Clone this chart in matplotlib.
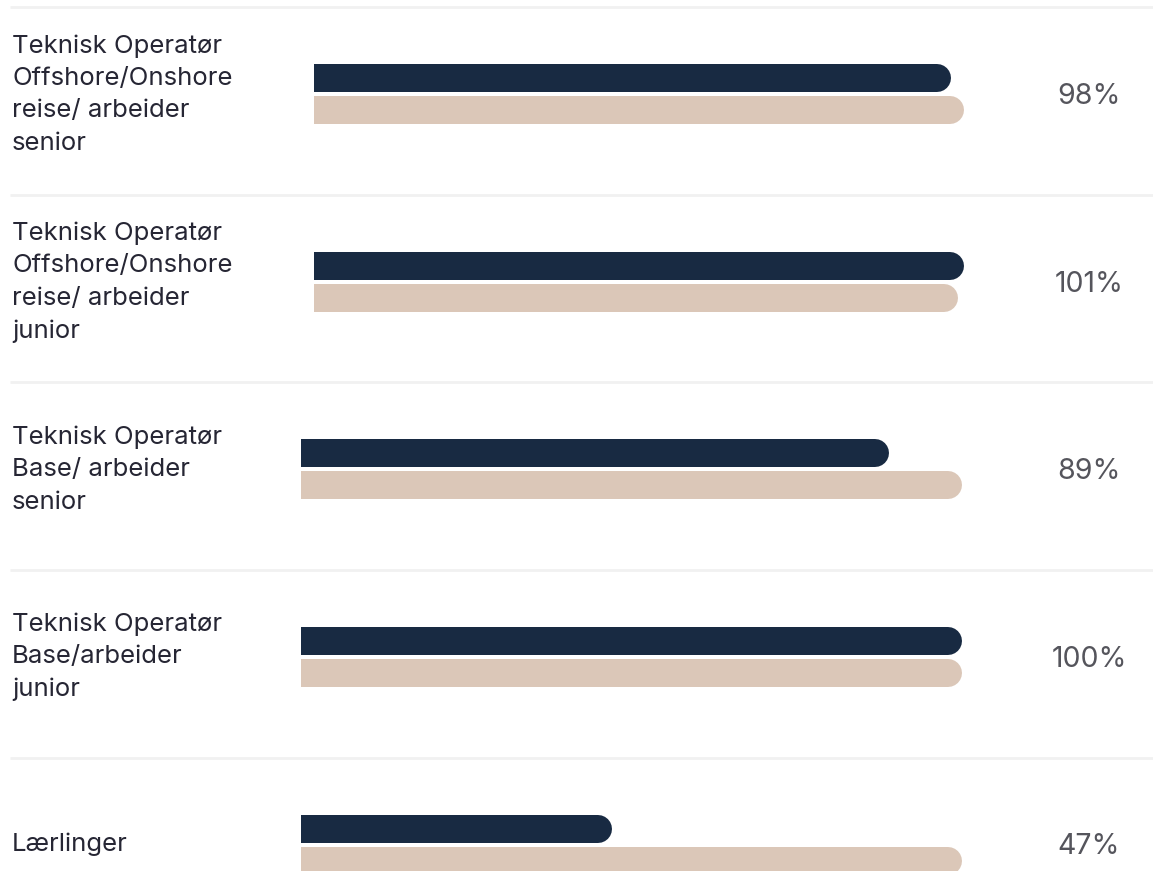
import matplotlib
matplotlib.use("Agg")
import matplotlib.pyplot as plt

# data (dark bar = ratio in %, light bar = reference 100 %)
labels = [
    "Teknisk Operatør\nOffshore/Onshore\nreise/ arbeider\nsenior",
    "Teknisk Operatør\nOffshore/Onshore\nreise/ arbeider\njunior",
    "Teknisk Operatør\nBase/ arbeider\nsenior",
    "Teknisk Operatør\nBase/arbeider\njunior",
    "Lærlinger",
]
ratio = [98, 101, 89, 100, 47]
reference = [100, 100, 100, 100, 100]
pct_labels = ["98%", "101%", "89%", "100%", "47%"]

W, H = 1153, 871
DPI = 100
dark = "#182a42"
beige = "#dbc7b8"
plt.rcParams["font.family"] = ["Inter", "DejaVu Sans"]

fig = plt.figure(figsize=(W / DPI, H / DPI), dpi=DPI)
bg = fig.add_axes([0, 0, 1, 1])
bg.set_xlim(0, W)
bg.set_ylim(H, 0)
bg.axis("off")

pitch = 187.5
first_center = 94.5
bar_px = 28
gap = 32  # distance between bar centers

for i in range(len(labels)):
    yc = first_center + i * pitch
    # separator above row
    bg.plot([10, W], [yc - 87, yc - 87], color="#f1f1f1", lw=2, solid_capstyle="butt")
    bg.text(12, yc, labels[i], fontsize=18.5, color="#262634", va="center", ha="left",
            linespacing=1.52)
    bg.text(1089, yc + 2, pct_labels[i], fontsize=20.5, color="#55555c", va="center",
            ha="center")

    left = 314 if i < 2 else 301
    right = 964 if i < 2 else 962
    ax = fig.add_axes([left / W, 1 - (yc + 40) / H, (right - left) / W, 80 / H])
    xmax = max(ratio[i], reference[i])
    ax.set_xlim(0, xmax)
    ax.set_ylim(-40, 40)
    ax.axis("off")
    r = (bar_px / 2) * xmax / (right - left)
    lw = bar_px * 72 / DPI
    for val, ypos, col in [(ratio[i], gap / 2, dark), (reference[i], -gap / 2, beige)]:
        ax.plot([-r, val - r], [ypos, ypos], color=col, lw=lw, solid_capstyle="round")

fig.savefig("out.png", dpi=DPI)
